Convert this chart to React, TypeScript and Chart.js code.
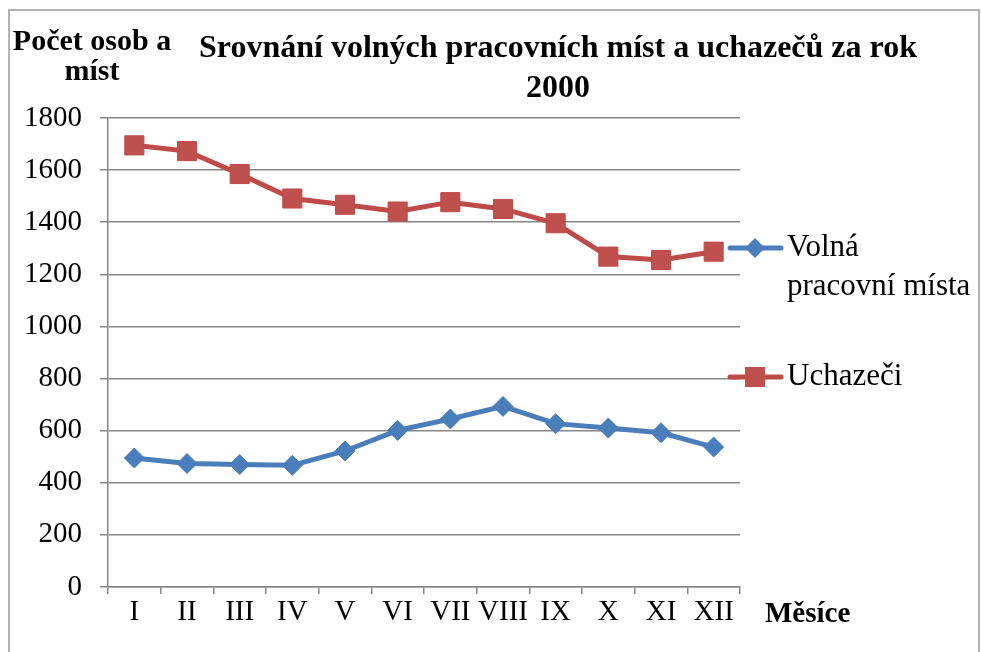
import React, { useEffect, useRef } from "react";
import { Chart, registerables } from "chart.js";

Chart.register(...registerables);

const months = ["I", "II", "III", "IV", "V", "VI", "VII", "VIII", "IX", "X", "XI", "XII"];
const volnaMista = [495, 474, 470, 467, 522, 601, 645, 693, 627, 610, 592, 537];
const uchazeci = [1695, 1673, 1585, 1491, 1467, 1441, 1477, 1451, 1396, 1268, 1255, 1287];
const yTicksMax = 1800;
const yTicksStep = 200;

const titleLines = ["Srovnání volných pracovních míst a uchazečů za rok", "2000"];
const yTitleLines = ["Počet osob a", "míst"];
const xTitle = "Měsíce";
const seriesNames = [["Volná", "pracovní místa"], ["Uchazeči"]];

const BLUE = "#4A7EBB";
const RED = "#BE4B48";
const GRID = "#878787";
const SERIF = "'Liberation Serif', 'Times New Roman', serif";

const textPlugin = {
  id: "textPlugin",
  afterDraw(chart: any) {
    const ctx = chart.ctx as CanvasRenderingContext2D;
    ctx.save();
    // frame
    ctx.strokeStyle = "#9a9a9a";
    ctx.lineWidth = 1.5;
    ctx.strokeRect(9, 10, 970, 660);

    ctx.fillStyle = "#000";
    ctx.textBaseline = "alphabetic";
    // title
    ctx.font = `bold 32px ${SERIF}`;
    ctx.textAlign = "center";
    ctx.fillText(titleLines[0], 558, 57);
    ctx.fillText(titleLines[1], 558, 97);
    // y title
    ctx.font = `bold 30px ${SERIF}`;
    ctx.fillText(yTitleLines[0], 92, 50);
    ctx.fillText(yTitleLines[1], 92, 80);
    // x title
    ctx.textAlign = "left";
    ctx.font = `bold 29px ${SERIF}`;
    ctx.fillText(xTitle, 765, 622);

    // legend
    const drawEntry = (y: number, color: string, fill: string, kind: string) => {
      ctx.strokeStyle = color;
      ctx.lineWidth = 5;
      ctx.lineCap = "round";
      ctx.beginPath();
      ctx.moveTo(730, y);
      ctx.lineTo(781, y);
      ctx.stroke();
      ctx.fillStyle = fill;
      ctx.beginPath();
      if (kind === "diamond") {
        ctx.moveTo(755, y - 10);
        ctx.lineTo(765, y);
        ctx.lineTo(755, y + 10);
        ctx.lineTo(745, y);
        ctx.closePath();
      } else {
        ctx.rect(745, y - 10, 20, 20);
      }
      ctx.fill();
    };
    drawEntry(248, BLUE, BLUE, "diamond");
    drawEntry(377, RED, "#C0504D", "square");
    ctx.fillStyle = "#000";
    ctx.font = `31px ${SERIF}`;
    ctx.textBaseline = "middle";
    ctx.fillText(seriesNames[0][0], 787, 248);
    ctx.fillText(seriesNames[0][1], 787, 287);
    ctx.fillText(seriesNames[1][0], 787, 377);
    ctx.restore();
  },
};

export default function App() {
  const ref = useRef<HTMLCanvasElement>(null);
  useEffect(() => {
    document.body.style.margin = "0";
    const chart = new Chart(ref.current as HTMLCanvasElement, {
      type: "line",
      data: {
        labels: months,
        datasets: [
          {
            label: seriesNames[0].join(" "),
            data: volnaMista,
            borderColor: BLUE,
            backgroundColor: BLUE,
            borderWidth: 5,
            pointStyle: "rectRot",
            pointRadius: 10,
            pointBorderWidth: 1,
            pointBorderColor: BLUE,
            pointBackgroundColor: BLUE,
            tension: 0,
          },
          {
            label: seriesNames[1][0],
            data: uchazeci,
            borderColor: RED,
            backgroundColor: "#C0504D",
            borderWidth: 5,
            pointStyle: "rect",
            pointRadius: 13.5,
            pointBorderWidth: 1,
            pointBorderColor: RED,
            pointBackgroundColor: "#C0504D",
            tension: 0,
          },
        ],
      },
      options: {
        responsive: false,
        animation: false,
        layout: { padding: { left: 0, top: 118, right: 241, bottom: 0 } },
        plugins: { legend: { display: false }, title: { display: false }, tooltip: { enabled: false } },
        scales: {
          x: {
            offset: true,
            grid: {
              display: true,
              drawOnChartArea: false,
              drawTicks: true,
              tickLength: 7,
              color: GRID,
              offset: true,
              lineWidth: 1.5,
            },
            border: { display: true, color: GRID, width: 1.5 },
            ticks: {
              color: "#000",
              font: { family: SERIF, size: 29 },
              padding: 1,
              maxRotation: 0,
              autoSkip: false,
            },
            afterFit: (scale: any) => {
              scale.height = 65;
            },
          },
          y: {
            min: 0,
            max: yTicksMax,
            grid: { color: GRID, tickLength: 8, lineWidth: 1.5 },
            border: { display: true, color: GRID, width: 1.5 },
            ticks: {
              stepSize: yTicksStep,
              color: "#000",
              font: { family: SERIF, size: 29 },
              padding: 18,
              callback: (v: any) => String(v),
            },
            afterFit: (scale: any) => {
              scale.width = 108;
            },
          },
        },
      },
      plugins: [textPlugin],
    });
    return () => chart.destroy();
  }, []);
  return (
    <div style={{ position: "absolute", left: 0, top: 0, width: 981, height: 652, background: "#fff" }}>
      <canvas ref={ref} width={981} height={652} style={{ display: "block" }} />
    </div>
  );
}
